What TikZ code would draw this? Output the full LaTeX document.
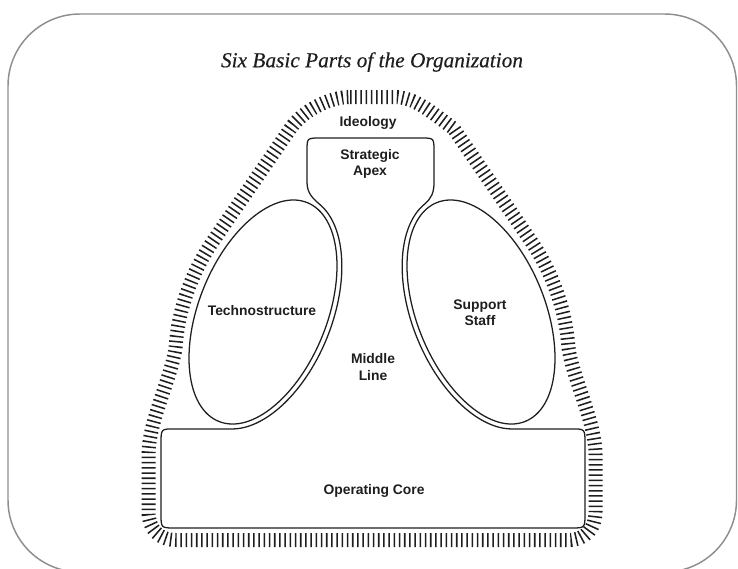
\documentclass[tikz,border=0pt]{standalone}
\usepackage{fontspec}
\setmainfont{Liberation Serif}
\newfontfamily\lblfont{Liberation Sans}
\newfontfamily\titlefam[FakeBold=0.35]{Liberation Serif}
\definecolor{framegray}{HTML}{8E8E8E}
\definecolor{ink}{HTML}{1E1E1E}
\begin{document}
\begin{tikzpicture}[x=0.75pt,y=-0.75pt,
  lbl/.style={font=\lblfont\bfseries\fontsize{10.4}{12.3}\selectfont, text=ink, align=center, inner sep=0pt},
  outl/.style={draw=ink, line width=0.95pt},
  hatch/.style={draw=ink, line width=10.5pt, dash pattern=on 1.15pt off 2.75pt},
  titlefont/.style={font=\titlefam\itshape\fontsize{16}{18}\selectfont, text=ink, inner sep=0pt}
]
\useasboundingbox (0,0) rectangle (738,568);
% frame
\draw[framegray, line width=1.1pt, rounded corners=54pt] (8,14) rectangle (736.5,572);
% title
\node[titlefont] (title) at (372,62) {Six Basic Parts of the Organization};
% ideology hatched band
\draw[hatch] (350,97) -- (394,97) .. controls (414.9,97) and (429.7,111.1) .. (453.5,128.4)
  -- plot[domain=69.5:118, samples=30, variable=\t] ({481-49.45*cos(\t)+72.32*sin(\t)},{312-122.39*cos(\t)-29.22*sin(\t)})
  .. controls (570.45,373.7) and (595.5,420) .. (595.5,455) -- (595.5,512)
  .. controls (595.5,528) and (586,540) .. (568,540) -- (176,540)
  .. controls (158,540) and (148.5,528) .. (148.5,512) -- (148.5,455)
  .. controls (148.5,420) and (173.6,373.7) .. (175.95,343.66)
  -- plot[domain=118:69.5, samples=30, variable=\t] ({263+49.45*cos(\t)-72.32*sin(\t)},{312-122.39*cos(\t)-29.22*sin(\t)})
  -- (290.5,128.4) .. controls (302.3,111.1) and (329.1,97) .. (350,97) -- cycle;
% strategic apex + middle line + operating core outline
\draw[outl] (232.2,428.9) -- (175,428.9) .. controls (161,428.9) .. (161,443) -- (161,514)
  .. controls (161,528) .. (175,528) -- (571,528) .. controls (585,528) .. (585,514)
  -- (585,443) .. controls (585,428.9) .. (571,428.9) -- (511.8,428.9)
  -- plot[domain=192.77:350, samples=70, variable=\t] ({481-46.08*cos(\t)+63.98*sin(\t)},{312-114.05*cos(\t)-25.85*sin(\t)})
  .. controls (431.5,198) and (434,193) .. (434,182) -- (434,151)
  .. controls (434,138) .. (421,138) -- (320,138) .. controls (307,138) .. (307,151)
  -- (307,182) .. controls (307,193) and (312.5,198) .. (319.5,204.2)
  -- plot[domain=350:192.77, samples=70, variable=\t] ({263+46.08*cos(\t)-63.98*sin(\t)},{312-114.05*cos(\t)-25.85*sin(\t)})
  -- cycle;
% technostructure and support staff ellipses
\draw[outl, shift={(263,312)}, rotate=68] (0,0) ellipse [x radius=88.5pt, y radius=48pt];
\draw[outl, shift={(481,312)}, rotate=-68] (0,0) ellipse [x radius=88.5pt, y radius=48pt];
% labels
\node[lbl] (ideo) at (368,123) {Ideology};
\node[lbl] (apex) at (370,164) {Strategic\\Apex};
\node[lbl] (techno) at (262,311) {Technostructure};
\node[lbl] (support) at (480,313) {Support\\Staff};
\node[lbl] (middle) at (373,367) {Middle\\Line};
\node[lbl] (core) at (374,491) {Operating Core};
\end{tikzpicture}
\end{document}
